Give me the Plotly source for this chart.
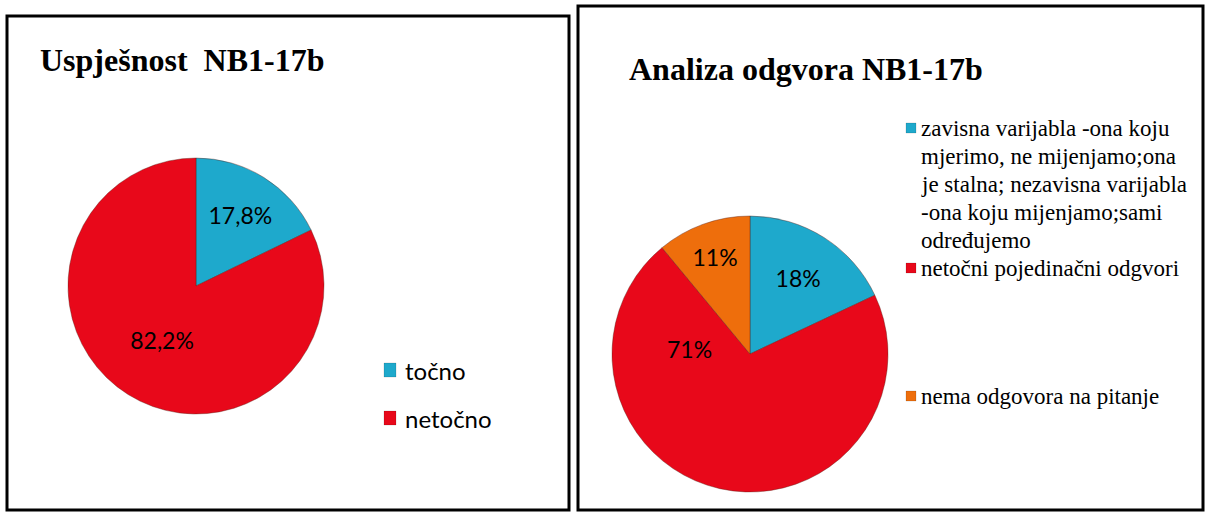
import plotly.graph_objects as go

# ---- data ----
left_title = "Uspješnost  NB1-17b"
left_labels = ["točno", "netočno"]
left_values = [17.8, 82.2]
left_colors = ["#1EA9CC", "#E8081A"]

right_title = "Analiza odgvora NB1-17b"
right_labels = [
    "zavisna varijabla -ona koju mjerimo, ne mijenjamo;ona je stalna; nezavisna varijabla -ona koju mijenjamo;sami određujemo",
    "netočni pojedinačni odgvori",
    "nema odgovora na pitanje",
]
# legend lines as wrapped in the reference
right_legend_lines = [
    ["zavisna varijabla -ona koju", "mjerimo, ne mijenjamo;ona", "je stalna; nezavisna varijabla",
     "-ona koju mijenjamo;sami", "određujemo"],
    ["netočni pojedinačni odgvori"],
    ["nema odgovora na pitanje"],
]
right_values = [18, 71, 11]
right_colors = ["#1EA9CC", "#E8081A", "#EE6E0C"]

W, H = 1209, 513
SERIF = "Liberation Serif"
SANS = "Lato"


def px(x):
    return x / W


def py(y):
    return 1 - y / H


fig = go.Figure()

fig.add_trace(go.Pie(
    labels=left_labels, values=left_values, sort=False, direction="clockwise",
    rotation=0, marker=dict(colors=left_colors, line=dict(color="rgba(90,30,20,0.5)", width=0.8)),
    texttemplate="%{percent:.1%}", textposition="inside", insidetextorientation="horizontal",
    textfont=dict(family=SANS, size=23, color="black"),
    domain=dict(x=[px(196 - 128), px(196 + 128)], y=[py(286 + 128), py(286 - 128)]),
    showlegend=False, hoverinfo="label+percent",
))

# the big red slice's label sits left of centre in the reference, drawn as an annotation below
right_templates = ["%{percent:.0%}", "", "%{percent:.0%}"]
fig.add_trace(go.Pie(
    labels=right_labels, values=right_values, sort=False, direction="clockwise",
    rotation=0, marker=dict(colors=right_colors, line=dict(color="rgba(90,30,20,0.5)", width=0.8)),
    texttemplate=right_templates, textposition="inside", insidetextorientation="horizontal",
    textfont=dict(family=SANS, size=23, color="black"),
    domain=dict(x=[px(750 - 138), px(750 + 138)], y=[py(354 + 138), py(354 - 138)]),
    showlegend=False, hoverinfo="percent",
))

shapes = []
annotations = []

red_pct = round(100 * right_values[1] / sum(right_values))
annotations.append(dict(text=f"{red_pct}%", xref="paper", yref="paper", x=px(690), y=py(349),
                        xanchor="center", yanchor="middle", showarrow=False,
                        font=dict(family=SANS, size=23, color="black")))

# panel borders
for (x0, y0, x1, y1) in [(7, 16, 569, 510), (578, 6, 1203, 510)]:
    shapes.append(dict(type="rect", xref="paper", yref="paper",
                       x0=px(x0), x1=px(x1), y0=py(y1), y1=py(y0),
                       line=dict(color="black", width=3), fillcolor="rgba(0,0,0,0)"))

# titles
annotations.append(dict(text="<b>" + left_title + "</b>", xref="paper", yref="paper",
                        x=px(38), y=py(60), xanchor="left", yanchor="middle", showarrow=False,
                        font=dict(family=SERIF, size=32, color="black")))
annotations.append(dict(text="<b>" + right_title + "</b>", xref="paper", yref="paper",
                        x=px(627), y=py(69), xanchor="left", yanchor="middle", showarrow=False,
                        font=dict(family=SERIF, size=32, color="black")))

# left legend
for lab, col, yc in zip(left_labels, left_colors, [370, 418]):
    shapes.append(dict(type="rect", xref="paper", yref="paper",
                       x0=px(384), x1=px(396), y0=py(yc + 7), y1=py(yc - 7),
                       line=dict(color="rgba(0,0,0,0.25)", width=0.5), fillcolor=col))
    annotations.append(dict(text=lab, xref="paper", yref="paper", x=px(403), y=py(yc),
                            xanchor="left", yanchor="middle", showarrow=False,
                            font=dict(family=SANS, size=24, color="black")))

# right legend
LINE = 28
for lines, col, yc in zip(right_legend_lines, right_colors, [128, 268, 396]):
    shapes.append(dict(type="rect", xref="paper", yref="paper",
                       x0=px(906), x1=px(916), y0=py(yc + 5), y1=py(yc - 5),
                       line=dict(color="rgba(0,0,0,0.25)", width=0.5), fillcolor=col))
    for i, ln in enumerate(lines):
        annotations.append(dict(text=ln, xref="paper", yref="paper", x=px(920), y=py(yc + LINE * i),
                                xanchor="left", yanchor="middle", align="left", showarrow=False,
                                borderpad=0,
                                font=dict(family=SERIF, size=23, color="black")))

fig.update_layout(
    width=W, height=H, margin=dict(l=0, r=0, t=0, b=0),
    paper_bgcolor="white", plot_bgcolor="white",
    separators=",.", shapes=shapes, annotations=annotations, showlegend=False,
)

fig.write_html("out.html", post_script="document.body.style.margin='0';",
               config={"displayModeBar": False})
